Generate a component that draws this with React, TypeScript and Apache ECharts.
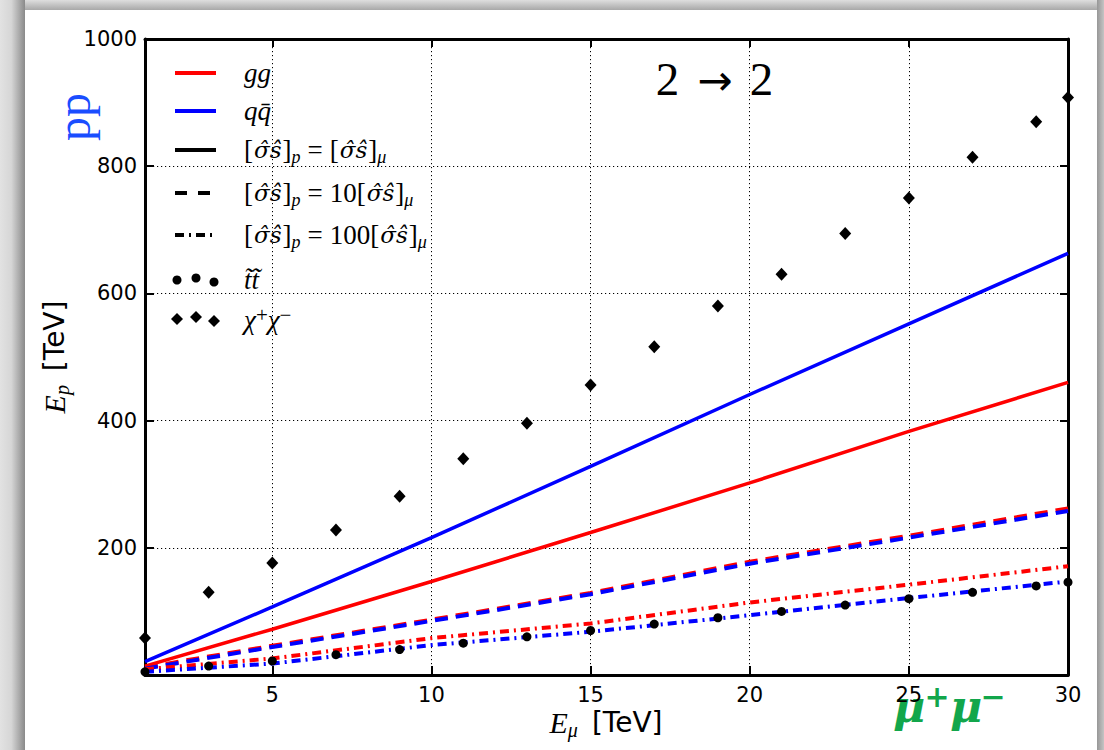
import React, { useEffect, useRef } from "react";
import * as echarts from "echarts";

// ---- data ----
const lineX = [1, 5, 10, 15, 20, 25, 30];
const ggSolid = [14, 72, 147, 224, 302, 383, 460];
const qqSolid = [21, 107, 216, 328, 441, 552, 663];
const ggDashed = [12, 46, 87, 129, 178, 219, 262];
const qqDashed = [10, 44, 85, 127, 175, 216, 258];
const ggDashDot = [9, 26, 58, 81, 114, 142, 171];
const qqDashDot = [5, 18, 47, 68, 94, 121, 147];

const pointX = [1, 3, 5, 7, 9, 11, 13, 15, 17, 19, 21, 23, 25, 27, 29, 30];
const stopPair = [5, 14, 22, 32, 40, 50, 60, 70, 80, 90, 100, 110, 120, 130, 140, 146];
const charginoPair = [58, 130, 176, 228, 281, 340, 396, 456, 516, 580, 630, 694, 750, 814, 870, 908];

const xTickLabels = [5, 10, 15, 20, 25, 30];
const yTickLabels = [200, 400, 600, 800, 1000];

const HAT_SIGMA_S = "\u03C3\u0302\u015D";
const legendLabels = [
  "{i|gg}",
  "{i|q}{i|q\u0304}",
  `{r|[}{h|${HAT_SIGMA_S}}{r|]}{s|p}{e|=}{r|[}{h|${HAT_SIGMA_S}}{r|]}{s|\u03BC}`,
  `{r|[}{h|${HAT_SIGMA_S}}{r|]}{s|p}{e|=}{r|10[}{h|${HAT_SIGMA_S}}{r|]}{s|\u03BC}`,
  `{r|[}{h|${HAT_SIGMA_S}}{r|]}{s|p}{e|=}{r|100[}{h|${HAT_SIGMA_S}}{r|]}{s|\u03BC}`,
  "{i|t\u0303t\u0303}",
  "{i|\u03C7}{sup|+}{i|\u03C7}{sup|\u2212}",
];

const RED = "#ff0000";
const BLUE = "#0000ff";
const DASH = [13, 8];
const DASHDOT = [9, 5, 2, 5];

export default function App() {
  const ref = useRef<HTMLDivElement>(null);

  useEffect(() => {
    if (!ref.current) return;
    const chart = echarts.init(ref.current, null, { renderer: "svg" });

    const pairs = (xs: number[], ys: number[]) => xs.map((x, i) => [x, ys[i]]);

    const lineSeries = (name: string, ys: number[], color: string, type: any, width: number) => ({
      name,
      type: "line",
      data: pairs(lineX, ys),
      symbol: "none",
      showSymbol: false,
      lineStyle: { color, width, type },
      z: 3,
    });

    const serifRich = {
      r: { fontFamily: "Liberation Serif", fontSize: 27, lineHeight: 32, fill: "#000", color: "#000", verticalAlign: "middle" },
      e: { fontFamily: "Liberation Serif", fontSize: 27, lineHeight: 32, fill: "#000", color: "#000", verticalAlign: "middle", padding: [0, 7, 0, 7] },
      i: { fontFamily: "Liberation Serif", fontStyle: "italic", fontSize: 27, lineHeight: 32, fill: "#000", color: "#000", verticalAlign: "middle" },
      h: { fontFamily: "DejaVu Serif", fontStyle: "italic", fontSize: 23, lineHeight: 32, fill: "#000", color: "#000", verticalAlign: "middle", padding: [0, 1, 0, 1] },
      s: { fontFamily: "Liberation Serif", fontStyle: "italic", fontSize: 18, lineHeight: 18, fill: "#000", color: "#000", verticalAlign: "bottom" },
      sup: { fontFamily: "Liberation Serif", fontSize: 21, lineHeight: 21, fill: "#000", color: "#000", verticalAlign: "top" },
    };

    const legendY = [73, 111, 150, 193, 235, 280, 320];
    const legendKinds = ["line", "line", "line", "line", "line", "circles", "diamonds"];
    const legendColors = [RED, BLUE, "#000", "#000", "#000", "#000", "#000"];
    const legendDashes: any[] = [null, null, null, [12, 11], DASHDOT, null, null];
    const markerXs = [177, 196, 214];
    const circleYs = [280, 278, 282];
    const diamondYs = [319, 317, 321];

    const legendChildren: any[] = [];
    legendLabels.forEach((label, k) => {
      const y = legendY[k];
      if (legendKinds[k] === "line") {
        legendChildren.push({
          type: "line",
          shape: { x1: 175, y1: y, x2: 216, y2: y },
          style: { stroke: legendColors[k], lineWidth: 4, lineDash: legendDashes[k] || null },
        });
      } else if (legendKinds[k] === "circles") {
        markerXs.forEach((mx, j) =>
          legendChildren.push({ type: "circle", shape: { cx: mx, cy: circleYs[j], r: 4.5 }, style: { fill: "#000" } })
        );
      } else {
        markerXs.forEach((mx, j) =>
          legendChildren.push({
            type: "polygon",
            shape: { points: [[mx, diamondYs[j] - 6], [mx + 6, diamondYs[j]], [mx, diamondYs[j] + 6], [mx - 6, diamondYs[j]]] },
            style: { fill: "#000" },
          })
        );
      }
      legendChildren.push({
        type: "text",
        x: 244,
        y,
        style: {
          text: label,
          rich: serifRich,
          textAlign: "left",
          textVerticalAlign: "middle",
          align: "left",
          verticalAlign: "middle",
        },
      });
    });

    const axisRich = {
      i: { fontFamily: "Liberation Serif", fontStyle: "italic", fontSize: 30, lineHeight: 36, fill: "#000", color: "#000", verticalAlign: "middle" },
      s: { fontFamily: "Liberation Serif", fontStyle: "italic", fontSize: 20, lineHeight: 20, fill: "#000", color: "#000", verticalAlign: "bottom" },
      t: { fontFamily: "DejaVu Sans", fontSize: 28, lineHeight: 36, fill: "#000", color: "#000", verticalAlign: "middle" },
    };

    const GREEN = "#12a64b";
    const gridDots = [1.2, 2.8];

    const option: any = {
      animation: false,
      backgroundColor: "#ffffff",
      grid: { left: 145, right: 36, top: 39, bottom: 75, containLabel: false },
      xAxis: [
        {
          type: "value",
          min: 1,
          max: 30,
          splitNumber: 5,
          minInterval: 5,
          maxInterval: 5,
          position: "bottom",
          axisLine: { show: true, onZero: false, lineStyle: { color: "#000", width: 3 } },
          axisTick: { show: true, inside: true, length: 9, lineStyle: { color: "#000", width: 2 } },
          axisLabel: {
            show: true,
            margin: 9,
            color: "#000",
            fontFamily: "DejaVu Sans",
            fontSize: 21,
            showMinLabel: true,
            showMaxLabel: true,
            hideOverlap: false,
            formatter: (v: number) => (xTickLabels.includes(v) ? String(v) : ""),
          },
          splitLine: { show: true, lineStyle: { color: "#000", width: 1, type: gridDots } },
        },
        {
          type: "value",
          min: 1,
          max: 30,
          splitNumber: 5,
          minInterval: 5,
          maxInterval: 5,
          position: "top",
          axisLine: { show: true, onZero: false, lineStyle: { color: "#000", width: 3 } },
          axisTick: { show: true, inside: true, length: 8, lineStyle: { color: "#000", width: 2 } },
          axisLabel: { show: false },
          splitLine: { show: false },
        },
      ],
      yAxis: [
        {
          type: "value",
          min: 0,
          max: 1000,
          interval: 200,
          position: "left",
          axisLine: { show: true, onZero: false, lineStyle: { color: "#000", width: 3 } },
          axisTick: { show: true, inside: true, length: 9, lineStyle: { color: "#000", width: 2 } },
          axisLabel: {
            show: true,
            margin: 8,
            color: "#000",
            fontFamily: "DejaVu Sans",
            fontSize: 21,
            formatter: (v: number) => (yTickLabels.includes(v) ? String(v) : ""),
          },
          splitLine: { show: true, lineStyle: { color: "#000", width: 1, type: gridDots } },
        },
        {
          type: "value",
          min: 0,
          max: 1000,
          interval: 200,
          position: "right",
          axisLine: { show: true, onZero: false, lineStyle: { color: "#000", width: 3 } },
          axisTick: { show: true, inside: true, length: 8, lineStyle: { color: "#000", width: 2 } },
          axisLabel: { show: false },
          splitLine: { show: false },
        },
      ],
      series: [
        lineSeries("gg solid", ggSolid, RED, "solid", 3.5),
        lineSeries("qq solid", qqSolid, BLUE, "solid", 3.5),
        lineSeries("gg dashed", ggDashed, RED, DASH, 4),
        lineSeries("qq dashed", qqDashed, BLUE, DASH, 4),
        lineSeries("gg dashdot", ggDashDot, RED, DASHDOT, 4),
        lineSeries("qq dashdot", qqDashDot, BLUE, DASHDOT, 4),
        {
          name: "stop pair",
          type: "scatter",
          data: pairs(pointX, stopPair),
          symbol: "circle",
          symbolSize: 9,
          itemStyle: { color: "#000", opacity: 1 },
          z: 5,
        },
        {
          name: "chargino pair",
          type: "scatter",
          data: pairs(pointX, charginoPair),
          symbol: "diamond",
          symbolSize: [12, 13],
          itemStyle: { color: "#000", opacity: 1 },
          z: 5,
        },
      ],
      graphic: [
        // window shadow frame
        {
          type: "rect",
          shape: { x: 0, y: 0, width: 25, height: 750 },
          style: {
            fill: {
              type: "linear", x: 0, y: 0, x2: 1, y2: 0,
              colorStops: [
                { offset: 0, color: "#e2e2e2" },
                { offset: 0.45, color: "#d6d6d6" },
                { offset: 1, color: "#8a8a8a" },
              ],
            },
          },
          silent: true,
        },
        {
          type: "rect",
          shape: { x: 25, y: 0, width: 1072, height: 10 },
          style: {
            fill: {
              type: "linear", x: 0, y: 0, x2: 0, y2: 1,
              colorStops: [
                { offset: 0, color: "#dedede" },
                { offset: 1, color: "#a8a8a8" },
              ],
            },
          },
          silent: true,
        },
        {
          type: "rect",
          shape: { x: 1097, y: 0, width: 7, height: 750 },
          style: {
            fill: {
              type: "linear", x: 0, y: 0, x2: 1, y2: 0,
              colorStops: [
                { offset: 0, color: "#979797" },
                { offset: 1, color: "#c4c4c4" },
              ],
            },
          },
          silent: true,
        },
        // legend
        { type: "group", children: legendChildren, z: 20 },
        // "2 -> 2" annotation
        {
          type: "group",
          z: 20,
          children: [
            { type: "text", x: 667.5, y: 79, style: { text: "2", fontFamily: "Liberation Serif", fontSize: 47, fill: "#000", textAlign: "center", textVerticalAlign: "middle" } },
            { type: "text", x: 715, y: 80, style: { text: "\u2192", fontFamily: "DejaVu Sans", fontSize: 42, fill: "#000", textAlign: "center", textVerticalAlign: "middle" } },
            { type: "text", x: 761.5, y: 79, style: { text: "2", fontFamily: "Liberation Serif", fontSize: 47, fill: "#000", textAlign: "center", textVerticalAlign: "middle" } },
          ],
        },
        // pp label
        {
          type: "text",
          x: 73,
          y: 117,
          rotation: Math.PI / 2,
          z: 20,
          style: { text: "pp", fontFamily: "Liberation Serif", fontSize: 48, fill: "#1a4dff", textAlign: "center", textVerticalAlign: "middle" },
        },
        // mu+ mu- label
        {
          type: "group",
          z: 20,
          children: [
            { type: "text", x: 909, y: 706, style: { text: "\u03BC", fontFamily: "DejaVu Serif", fontStyle: "italic", fontWeight: "bold", fontSize: 44, fill: GREEN, textAlign: "center", textVerticalAlign: "middle" } },
            { type: "text", x: 937, y: 696, style: { text: "+", fontFamily: "DejaVu Serif", fontWeight: "bold", fontSize: 30, fill: GREEN, textAlign: "center", textVerticalAlign: "middle" } },
            { type: "text", x: 966, y: 706, style: { text: "\u03BC", fontFamily: "DejaVu Serif", fontStyle: "italic", fontWeight: "bold", fontSize: 44, fill: GREEN, textAlign: "center", textVerticalAlign: "middle" } },
            { type: "text", x: 993, y: 696, style: { text: "\u2212", fontFamily: "DejaVu Serif", fontWeight: "bold", fontSize: 30, fill: GREEN, textAlign: "center", textVerticalAlign: "middle" } },
          ],
        },
        // axis titles
        {
          type: "text",
          x: 606,
          y: 722,
          z: 20,
          style: { text: "{i|E}{s|\u03BC}{t|\u2002[TeV]}", rich: axisRich, textAlign: "center", textVerticalAlign: "middle", align: "center", verticalAlign: "middle" },
        },
        {
          type: "text",
          x: 54,
          y: 357,
          rotation: Math.PI / 2,
          z: 20,
          style: { text: "{i|E}{s|p}{t|\u2002[TeV]}", rich: axisRich, textAlign: "center", textVerticalAlign: "middle", align: "center", verticalAlign: "middle" },
        },
      ],
    };

    chart.setOption(option);
    return () => chart.dispose();
  }, []);

  return (
    <div
      ref={ref}
      style={{ position: "absolute", left: 0, top: 0, width: 1104, height: 750, background: "#fff" }}
    />
  );
}
